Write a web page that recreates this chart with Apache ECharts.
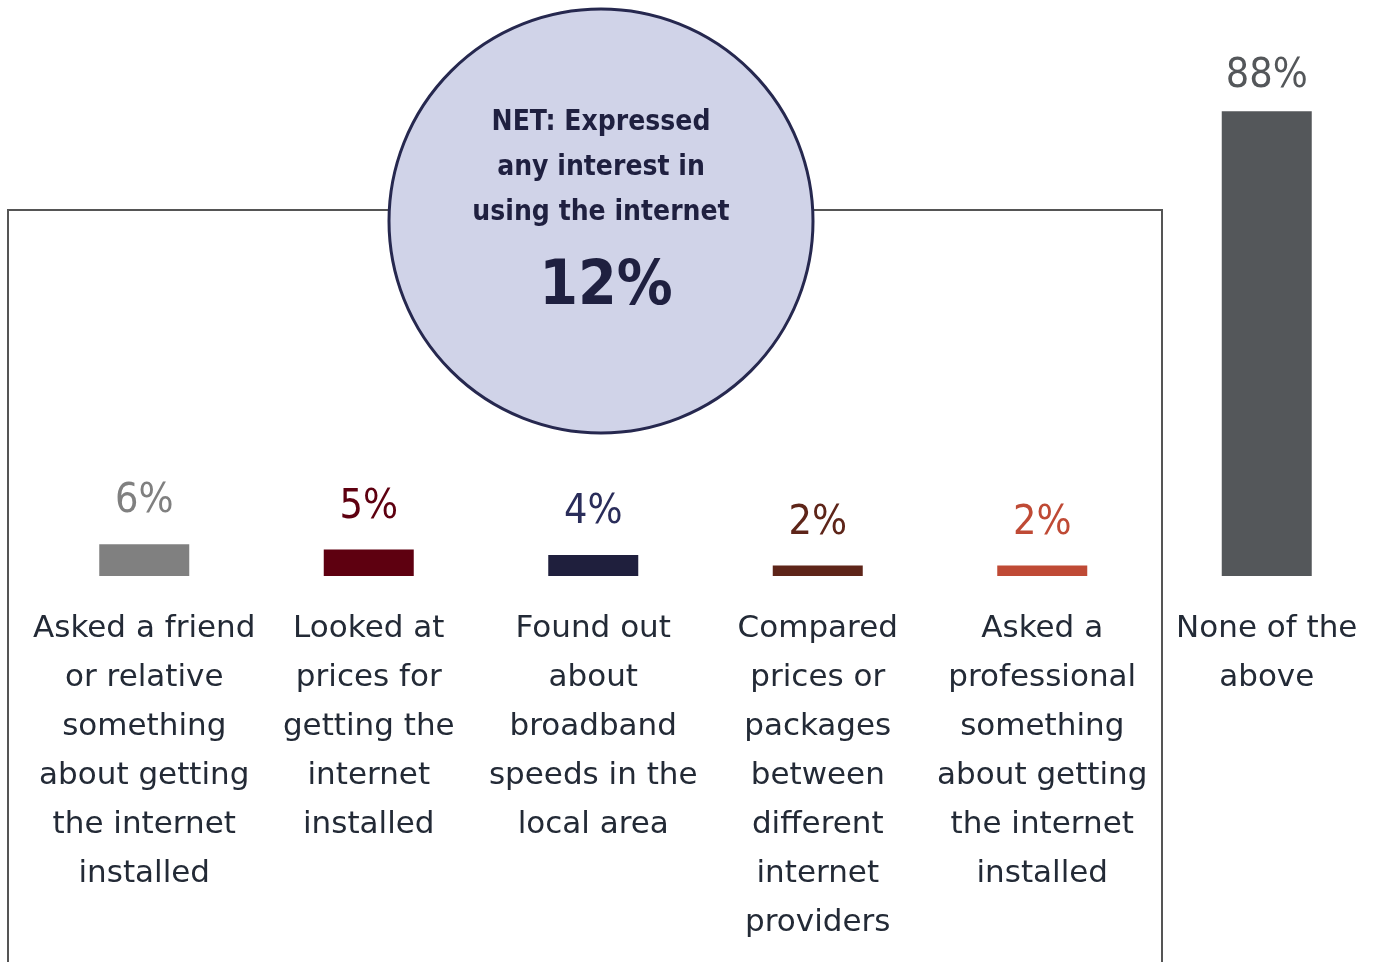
<!DOCTYPE html>
<html>
<head>
<meta charset="utf-8">
<script src="https://cdn.jsdelivr.net/npm/echarts@6/dist/echarts.min.js"></script>
<style>
  html, body { margin: 0; padding: 0; background: #fff; overflow: hidden; }
  #main { width: 1380px; height: 962px; }
</style>
</head>
<body>
<div id="main"></div>
<script>
var categories = [
    'Asked a friend\nor relative\nsomething\nabout getting\nthe internet\ninstalled',
    'Looked at\nprices for\ngetting the\ninternet\ninstalled',
    'Found out\nabout\nbroadband\nspeeds in the\nlocal area',
    'Compared\nprices or\npackages\nbetween\ndifferent\ninternet\nproviders',
    'Asked a\nprofessional\nsomething\nabout getting\nthe internet\ninstalled',
    'None of the\nabove'
];
var values = [6, 5, 4, 2, 2, 88];
var barColors = ['#808080', '#5e0010', '#1f1f3d', '#5e2519', '#bf4a35', '#54575a'];
var labelColors = ['#808080', '#5e0010', '#2a2d5a', '#5e2519', '#bf4a35', '#54575a'];
var netLines = ['NET: Expressed', 'any interest in', 'using the internet'];
var netValue = '12%';

var myChart = echarts.init(document.getElementById('main'));

var option = {
    backgroundColor: '#fff',
    animation: false,
    grid: { left: 32, right: 1, top: 48, bottom: 386 },
    xAxis: {
        type: 'category',
        data: categories,
        axisLine: { show: false },
        axisTick: { show: false },
        axisLabel: {
            interval: 0,
            margin: 28,
            fontFamily: 'DejaVu Sans',
            fontSize: 31,
            lineHeight: 49,
            color: '#232a36'
        }
    },
    yAxis: {
        type: 'value',
        min: 0,
        max: 100,
        show: false
    },
    graphic: [
        {
            type: 'rect',
            z: 1,
            shape: { x: 8, y: 210, width: 1154, height: 800 },
            style: { fill: 'none', stroke: '#555', lineWidth: 2 }
        },
        {
            type: 'circle',
            z: 2,
            shape: { cx: 601, cy: 221, r: 212 },
            style: { fill: '#d0d3e8', stroke: '#26284f', lineWidth: 3 }
        },
        {
            type: 'text',
            z: 3,
            x: 601,
            y: 168,
            style: {
                text: netLines.join('\n'),
                align: 'center',
                verticalAlign: 'middle',
                font: 'bold 28px "DejaVu Sans Condensed"',
                lineHeight: 45,
                fill: '#1f2040'
            }
        },
        {
            type: 'text',
            z: 3,
            x: 606,
            y: 288,
            style: {
                text: netValue,
                align: 'center',
                verticalAlign: 'middle',
                font: 'bold 62px "DejaVu Sans Condensed"',
                fill: '#1f2040'
            }
        }
    ],
    series: [{
        type: 'bar',
        barWidth: 90,
        data: values.map(function (v, i) {
            return {
                value: v,
                itemStyle: { color: barColors[i] },
                label: { color: labelColors[i], distance: v > 50 ? 15 : 22 }
            };
        }),
        label: {
            show: true,
            position: 'top',
            formatter: '{c}%',
            fontFamily: 'DejaVu Sans Condensed',
            fontSize: 41
        }
    }]
};

myChart.setOption(option);
</script>
</body>
</html>
